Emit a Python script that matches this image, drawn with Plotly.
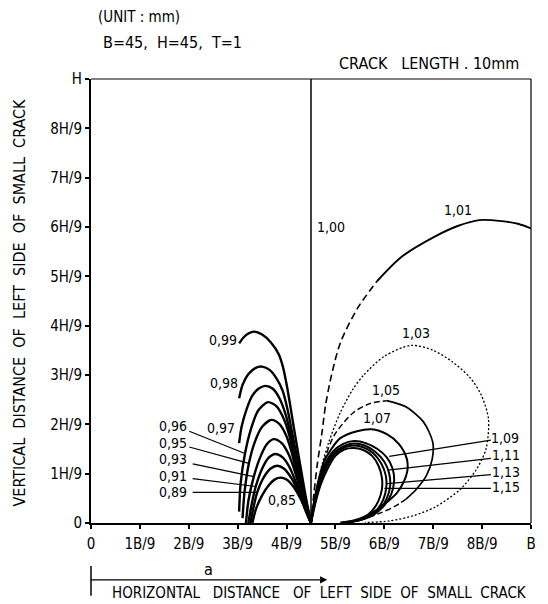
import plotly.graph_objects as go

# ---------------- data (x in units of B/9, y in units of H/9) ----------------
x_ticks = [0, 1, 2, 3, 4, 5, 6, 7, 8, 9]
x_tick_text = ["0", "1B/9", "2B/9", "3B/9", "4B/9", "5B/9", "6B/9", "7B/9", "8B/9", "B"]
y_tick_text = ["0", "1H/9", "2H/9", "3H/9", "4H/9", "5H/9", "6H/9", "7H/9", "8H/9", "H"]

# left family (ratio < 1)
c_099 = [(3.03, 3.64), (3.12, 3.76), (3.22, 3.84), (3.33, 3.88), (3.5, 3.82), (3.68, 3.66),
         (3.84, 3.42), (3.93, 3.15), (4.01, 2.76), (4.18, 1.75), (4.38, 0.6), (4.5, 0.0)]
c_098 = [(3.03, 2.53), (3.1, 2.8), (3.22, 3.02), (3.36, 3.14), (3.5, 3.17), (3.66, 3.1),
         (3.8, 2.92), (3.92, 2.68), (4.02, 2.3), (4.12, 1.8), (4.22, 1.3), (4.33, 0.75),
         (4.43, 0.3), (4.5, 0.0)]
c_097 = [(3.03, 1.62), (3.08, 1.95), (3.18, 2.3), (3.3, 2.58), (3.44, 2.73), (3.57, 2.78),
         (3.72, 2.72), (3.86, 2.52), (3.98, 2.2), (4.08, 1.8), (4.18, 1.3), (4.3, 0.75),
         (4.41, 0.3), (4.5, 0.0)]
c_096 = [(3.03, 0.23), (3.06, 0.8), (3.15, 1.41), (3.27, 1.9), (3.42, 2.28), (3.62, 2.45),
         (3.8, 2.36), (3.94, 2.12), (4.05, 1.8), (4.15, 1.35), (4.26, 0.85), (4.38, 0.38),
         (4.5, 0.0)]
c_095 = [(3.1, 0.1), (3.14, 0.62), (3.23, 1.21), (3.35, 1.64), (3.5, 1.95), (3.69, 2.09),
         (3.86, 2.0), (3.99, 1.78), (4.1, 1.45), (4.2, 1.05), (4.31, 0.6), (4.41, 0.25),
         (4.5, 0.0)]
c_093 = [(3.17, 0.0), (3.22, 0.45), (3.33, 0.94), (3.46, 1.33), (3.6, 1.6), (3.74, 1.7),
         (3.9, 1.62), (4.03, 1.42), (4.14, 1.14), (4.25, 0.78), (4.36, 0.4), (4.5, 0.0)]
c_091 = [(3.22, 0.0), (3.28, 0.35), (3.37, 0.74), (3.5, 1.1), (3.63, 1.32), (3.77, 1.4),
         (3.92, 1.33), (4.05, 1.15), (4.17, 0.88), (4.28, 0.58), (4.39, 0.27), (4.5, 0.0)]
c_089 = [(3.26, 0.0), (3.32, 0.3), (3.4, 0.62), (3.53, 0.92), (3.67, 1.1), (3.81, 1.16),
         (3.95, 1.1), (4.08, 0.94), (4.2, 0.72), (4.31, 0.46), (4.41, 0.2), (4.5, 0.0)]
c_085 = [(3.3, 0.0), (3.38, 0.3), (3.5, 0.56), (3.64, 0.77), (3.77, 0.89), (3.88, 0.92),
         (4.0, 0.88), (4.13, 0.75), (4.25, 0.56), (4.35, 0.36), (4.43, 0.16), (4.5, 0.0)]

# ratio = 1.00 (vertical line through the centre)
c_100 = [(4.5, 0.0), (4.5, 9.0)]

# right family (ratio > 1)
c_101_dash = [(4.5, 0.0), (4.56, 0.6), (4.63, 1.2), (4.72, 1.8), (4.8, 2.4), (4.92, 3.0),
              (5.1, 3.65), (5.45, 4.35), (5.85, 4.9)]
c_101_solid = [(5.85, 4.9), (6.36, 5.4), (7.04, 5.81), (7.5, 6.02), (7.94, 6.14),
               (8.4, 6.12), (8.75, 6.06), (9.0, 5.97)]
c_103 = [(4.5, 0.0), (4.58, 0.5), (4.68, 1.0), (4.85, 1.6), (5.1, 2.24), (5.35, 2.7),
         (5.57, 2.99), (6.0, 3.38), (6.55, 3.6), (7.0, 3.5), (7.4, 3.26), (7.75, 2.95),
         (7.98, 2.6), (8.13, 2.11), (8.08, 1.5), (7.88, 1.08), (7.55, 0.68), (7.05, 0.33),
         (6.6, 0.15), (6.1, 0.04), (5.6, 0.01)]
c_105_a = [(4.5, 0.0), (4.6, 0.6), (4.75, 1.2), (4.97, 1.77), (5.37, 2.24), (5.7, 2.42),
           (6.05, 2.48)]
c_105_b = [(6.05, 2.48), (6.45, 2.35), (6.8, 2.05), (6.99, 1.64), (6.98, 1.3), (6.86, 0.96),
           (6.65, 0.68), (6.45, 0.49)]
c_105_c = [(6.45, 0.49), (6.2, 0.33), (5.91, 0.2), (5.57, 0.08), (5.3, 0.02)]
c_107 = [(4.5, 0.0), (4.56, 0.42), (4.65, 0.85), (4.76, 1.23), (4.93, 1.52), (5.1, 1.72),
         (5.44, 1.86), (5.74, 1.9), (6.05, 1.8), (6.3, 1.6), (6.46, 1.3), (6.47, 1.05),
         (6.39, 0.82), (6.25, 0.6), (6.05, 0.42), (5.84, 0.26), (5.64, 0.15), (5.37, 0.05),
         (5.1, 0.01)]
c_109 = [(4.5, 0.0), (4.56, 0.4), (4.65, 0.8), (4.78, 1.18), (4.95, 1.45), (5.15, 1.6),
         (5.38, 1.66), (5.62, 1.62), (5.86, 1.5), (6.05, 1.33), (6.17, 1.1), (6.2, 0.85),
         (6.14, 0.58), (6.0, 0.36), (5.8, 0.18), (5.55, 0.07), (5.3, 0.02)]
c_111 = [(4.5, 0.0), (4.57, 0.4), (4.67, 0.8), (4.8, 1.15), (4.97, 1.42), (5.17, 1.56),
         (5.38, 1.61), (5.6, 1.57), (5.82, 1.44), (6.0, 1.24), (6.1, 1.0), (6.12, 0.76),
         (6.05, 0.5), (5.92, 0.3), (5.72, 0.15), (5.5, 0.06), (5.25, 0.02)]
c_113 = [(4.5, 0.0), (4.58, 0.4), (4.68, 0.8), (4.82, 1.14), (4.99, 1.4), (5.18, 1.53),
         (5.37, 1.57), (5.58, 1.53), (5.78, 1.41), (5.94, 1.2), (6.03, 0.96), (6.04, 0.72),
         (5.98, 0.48), (5.86, 0.28), (5.68, 0.14), (5.45, 0.05), (5.2, 0.01)]
c_115 = [(4.5, 0.0), (4.59, 0.4), (4.7, 0.78), (4.84, 1.1), (5.0, 1.36), (5.18, 1.49),
         (5.37, 1.52), (5.57, 1.48), (5.75, 1.36), (5.88, 1.16), (5.95, 0.92), (5.95, 0.68),
         (5.88, 0.45), (5.76, 0.26), (5.6, 0.12), (5.4, 0.04), (5.15, 0.01)]

# leader lines (label end -> curve)
lead_096 = [(2.01, 1.86), (3.15, 1.41)]
lead_095 = [(2.01, 1.54), (3.23, 1.21)]
lead_093 = [(2.08, 1.2), (3.33, 0.94)]
lead_091 = [(2.08, 0.9), (3.37, 0.74)]
lead_089 = [(2.08, 0.62), (3.4, 0.62)]
lead_109 = [(8.18, 1.68), (6.1, 1.35)]
lead_111 = [(8.18, 1.31), (6.08, 1.07)]
lead_113 = [(8.18, 0.98), (6.06, 0.8)]
lead_115 = [(8.18, 0.7), (6.0, 0.7)]

# curve labels
label_text = ["0,99", "0,98", "0,97", "0,96", "0,95", "0,93", "0,91", "0,89", "0,85",
              "1,01", "1,03", "1,05", "1,07", "1,09", "1,11", "1,13", "1,15"]
label_x = [2.69, 2.72, 2.66, 1.67, 1.67, 1.67, 1.67, 1.67, 3.91,
           7.5, 6.65, 6.04, 5.84, 8.46, 8.48, 8.48, 8.48]
label_y = [3.71, 2.83, 1.92, 1.96, 1.63, 1.29, 0.96, 0.63, 0.47,
           6.35, 3.85, 2.7, 2.12, 1.72, 1.38, 1.04, 0.72]
label_100 = ("1,00", 4.59, 6.0)

# ---------------- figure ----------------
FONT = "Liberation Sans Narrow, DejaVu Sans Condensed, Arial Narrow, sans-serif"
fig = go.Figure()


def add(pts, dash="solid", width=2.0, spline=True):
    fig.add_trace(go.Scatter(
        x=[p[0] for p in pts], y=[p[1] for p in pts], mode="lines",
        line=dict(color="black", width=width, dash=dash,
                  shape="spline" if spline else "linear", smoothing=0.8),
        hoverinfo="skip", showlegend=False))


for c in [c_099, c_098, c_097, c_096, c_095, c_093, c_091, c_089, c_085]:
    add(c, width=2.4)
add(c_100, width=1.5, spline=False)
add(c_101_dash, dash="7px,4px", width=1.6)
add(c_101_solid, width=1.9)
add(c_103, dash="2px,2px", width=1.3)
add(c_105_a, dash="6px,3px", width=1.5)
add(c_105_b, width=1.7)
add(c_105_c, dash="6px,3px", width=1.4)
for c in [c_107, c_109, c_111, c_113, c_115]:
    add(c, width=2.0)
for ld in [lead_096, lead_095, lead_093, lead_091, lead_089,
           lead_109, lead_111, lead_113, lead_115]:
    add(ld, width=1.2, spline=False)

for t, x, y in zip(label_text, label_x, label_y):
    fig.add_annotation(x=x, y=y, xref="x", yref="y", text=t, showarrow=False,
                       font=dict(family=FONT, size=14, color="black"))
fig.add_annotation(x=label_100[1], y=label_100[2], xref="x", yref="y", text=label_100[0],
                   xanchor="left", showarrow=False,
                   font=dict(family=FONT, size=14, color="black"))


def note(text, x, y, size, xanchor="center", angle=0):
    fig.add_annotation(x=x, y=y, xref="paper", yref="paper", text=text, showarrow=False,
                       xanchor=xanchor, yanchor="middle", textangle=angle,
                       font=dict(family=FONT, size=size, color="black"))


# header texts
note("(UNIT : mm)", 0.011, 1.1396, 15, "left")
note("B=45,  H=45,  T=1", 0.023, 1.0833, 16, "left")
note("CRACK   LENGTH . 10mm", 0.977, 1.034, 16, "right")
# axis titles
note("VERTICAL  DISTANCE  OF  LEFT  SIDE  OF  SMALL  CRACK", -0.1625, 0.4955, 16,
     "center", -90)
note("HORIZONTAL   DISTANCE   OF  LEFT  SIDE  OF  SMALL  CRACK", 0.043, -0.158, 15, "left")
note("a", 0.266, -0.104, 16)
# arrow for "a"
fig.add_annotation(x=0.537, y=-0.128, ax=-238, ay=0, xref="paper", yref="paper",
                   axref="pixel", ayref="pixel", text="", showarrow=True,
                   arrowhead=2, arrowsize=1.2, arrowwidth=1.2, arrowcolor="black")
fig.add_shape(type="line", xref="paper", yref="paper", x0=0, x1=0, y0=-0.097, y1=-0.164,
              line=dict(color="black", width=1.5))
# thin top / right frame
fig.add_shape(type="line", xref="paper", yref="paper", x0=0, x1=1, y0=1, y1=1,
              line=dict(color="black", width=1.2))
fig.add_shape(type="line", xref="paper", yref="paper", x0=1, x1=1, y0=0, y1=1,
              line=dict(color="black", width=1.2))

fig.update_layout(
    width=548, height=604, autosize=False,
    margin=dict(l=91, r=14, t=79, b=81),
    paper_bgcolor="white", plot_bgcolor="white",
    font=dict(family=FONT, size=15, color="black"),
    xaxis=dict(range=[0, 9], tickvals=x_ticks, ticktext=x_tick_text, showgrid=False,
               zeroline=False, showline=True, linecolor="black", linewidth=2,
               ticks="outside", ticklen=4, tickwidth=1.5, tickcolor="black",
               ticklabelstandoff=2),
    yaxis=dict(range=[0, 9], tickvals=x_ticks, ticktext=y_tick_text, showgrid=False,
               zeroline=False, showline=True, linecolor="black", linewidth=2,
               ticks="outside", ticklen=4, tickwidth=1.5, tickcolor="black"),
)

fig.write_html("out.html")
